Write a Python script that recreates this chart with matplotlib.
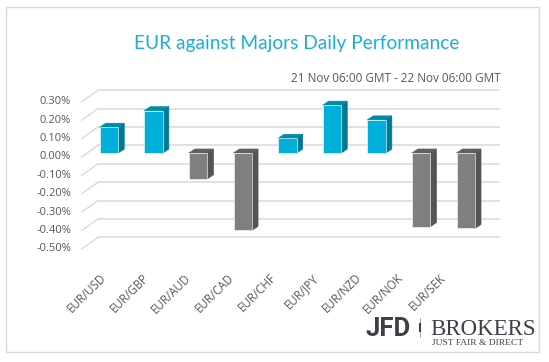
import matplotlib.pyplot as plt
from matplotlib.patches import Polygon, Rectangle
from matplotlib.lines import Line2D

# data (percent change, 21 Nov 06:00 -> 22 Nov 06:00 GMT)
pairs = ["EUR/USD", "EUR/GBP", "EUR/AUD", "EUR/CAD", "EUR/CHF",
         "EUR/JPY", "EUR/NZD", "EUR/NOK", "EUR/SEK"]
changes = [0.14, 0.23, -0.14, -0.42, 0.08, 0.26, 0.18, -0.40, -0.41]
y_ticks = [0.30, 0.20, 0.10, 0.00, -0.10, -0.20, -0.30, -0.40, -0.50]

title = "EUR against Majors Daily Performance"
subtitle = "21 Nov 06:00 GMT - 22 Nov 06:00 GMT"

# colours
pos_cols = ("#00B0DA", "#007A94", "#008AA8")   # front, side, top
neg_cols = ("#7F7F7F", "#545454", "#5F5F5F")
grid_col = "#D9D9D9"
text_col = "#595959"

fig = plt.figure(figsize=(5.49, 3.62), dpi=100)
fig.patch.set_facecolor("white")

# axes = plane of the bar fronts
ax = fig.add_axes([0.1579, 0.3232, 0.7311, 0.4066])
ax.set_xlim(-0.5, len(pairs) - 0.5)
ax.set_ylim(-0.5, 0.3)
ax.set_axis_off()

# pseudo 3d offsets (data units)
back_dx, back_dy = 0.253, 0.041
front_dx, front_dy = -0.112, -0.021
bar_w = 0.415
depth_dx, depth_dy = 0.1345, 0.0217

# back wall gridlines + side wall diagonals
x0 = -0.5
x1 = len(pairs) - 0.5
for v in y_ticks:
    ax.add_line(Line2D([x0 + back_dx, x1 + back_dx], [v + back_dy, v + back_dy],
                       color=grid_col, lw=1.1, clip_on=False, zorder=1))
    ax.add_line(Line2D([x0 + front_dx, x0 + back_dx], [v + front_dy, v + back_dy],
                       color=grid_col, lw=1.0, clip_on=False, zorder=1))
    ax.text(x0 - 0.352, v + front_dy, f"{v:.2f}%", ha="right", va="center",
            fontsize=8, color=text_col, family="Open Sans")

# bars
for i, v in enumerate(changes):
    front, side, top = pos_cols if v >= 0 else neg_cols
    lo, hi = min(v, 0), max(v, 0)
    l, r = i - bar_w / 2, i + bar_w / 2
    ax.add_patch(Polygon([(r, lo), (r, hi), (r + depth_dx, hi + depth_dy),
                          (r + depth_dx, lo + depth_dy)],
                         closed=True, fc=side, ec=side, lw=0.5, zorder=3, clip_on=False))
    ax.add_patch(Polygon([(l, hi), (r, hi), (r + depth_dx, hi + depth_dy),
                          (l + depth_dx, hi + depth_dy)],
                         closed=True, fc=top, ec=top, lw=0.5, zorder=3, clip_on=False))
    ax.bar(i, v, width=bar_w, color=front, edgecolor="white", linewidth=0.4,
           zorder=4, clip_on=False)

# category labels (rotated)
for i, name in enumerate(pairs):
    ax.text(-0.11 + 0.953 * i, -0.668, name, rotation=45, rotation_mode="anchor",
            ha="right", va="center", fontsize=8.3, color=text_col, family="Open Sans")

# titles
fig.text(0.541, 0.881, title, ha="center", va="center", fontsize=13.8,
         color="#17B0DA", family="Lato")
fig.text(0.911, 0.782, subtitle, ha="right", va="center", fontsize=8.5,
         color=text_col, family="Open Sans")

# logo
fig.text(0.665, 0.071, "JFD", ha="left", va="baseline", fontsize=18.5,
         fontweight="bold", color="#3C4148", family="Roboto")
fig.add_artist(Line2D([0.765, 0.765], [0.07, 0.122], color="#9A9A9A", lw=0.6,
                      transform=fig.transFigure))
fig.add_artist(Line2D([0.765, 0.765], [0.085, 0.105], color="#3C4148", lw=1.5,
                      transform=fig.transFigure))
fig.text(0.783, 0.075, "BROKERS", ha="left", va="baseline", fontsize=16.5,
         color="#3C4148", family="Liberation Serif")
fig.text(0.786, 0.048, "JUST FAIR & DIRECT", ha="left", va="baseline", fontsize=6.8,
         color="#3C4148", family="Liberation Serif")

# outer frame
fig.add_artist(Rectangle((6 / 549, 1 - 352 / 362), 533 / 549, 345 / 362,
                         transform=fig.transFigure, fill=False, ec="#D9D9D9", lw=1))

fig.savefig("out.png", dpi=100)
